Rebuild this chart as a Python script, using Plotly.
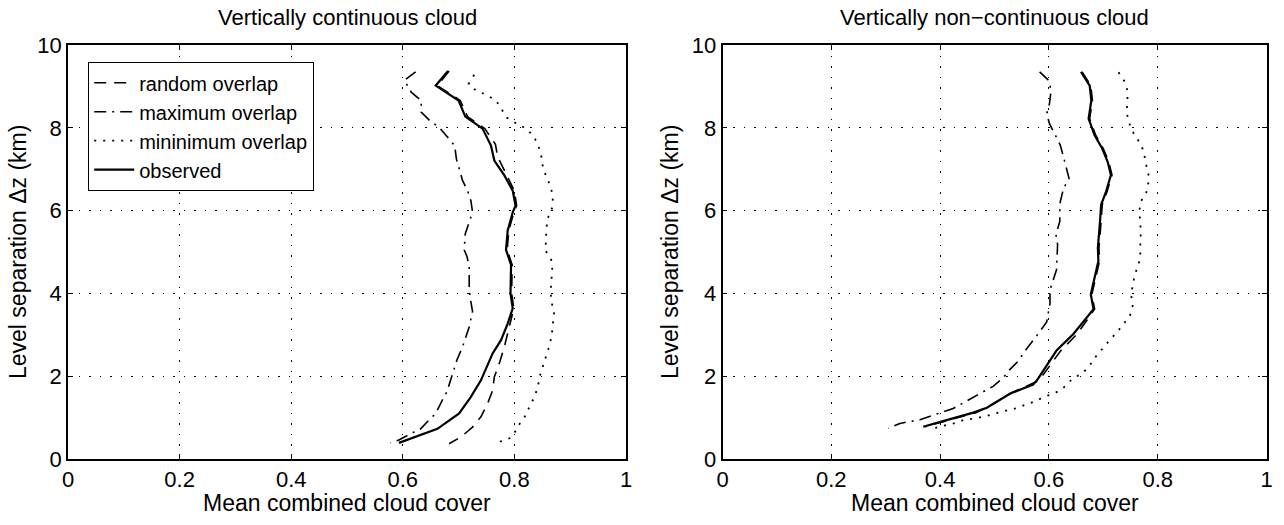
import plotly.graph_objects as go

# ---------------- data ----------------
# Left panel: vertically continuous cloud
rand_L_x = [0.683, 0.662, 0.703, 0.716, 0.747, 0.766, 0.770, 0.785, 0.800, 0.804, 0.799, 0.790, 0.787,
            0.796, 0.795, 0.799, 0.788, 0.782, 0.773, 0.764, 0.761, 0.752, 0.740, 0.725, 0.704, 0.683]
rand_L_y = [9.37, 9.02, 8.66, 8.27, 7.98, 7.60, 7.30, 6.90, 6.48, 6.12, 5.96, 5.52, 5.05,
            4.69, 4.00, 3.64, 3.03, 2.71, 2.31, 1.98, 1.66, 1.34, 1.02, 0.77, 0.53, 0.37]

max_L_x = [0.623, 0.603, 0.615, 0.633, 0.633, 0.648, 0.666, 0.678, 0.693, 0.696, 0.700, 0.707, 0.716,
           0.722, 0.725, 0.718, 0.712, 0.710, 0.715, 0.719, 0.719, 0.722, 0.725, 0.719, 0.713, 0.707,
           0.697, 0.692, 0.686, 0.679, 0.670, 0.659, 0.644, 0.632, 0.614, 0.593, 0.578]
max_L_y = [9.35, 9.15, 8.86, 8.66, 8.38, 8.18, 8.00, 7.81, 7.57, 7.25, 7.05, 6.73, 6.48,
           6.24, 5.96, 5.68, 5.44, 5.05, 4.89, 4.65, 4.08, 3.80, 3.56, 3.19, 2.95, 2.71,
           2.39, 2.19, 1.90, 1.62, 1.40, 1.10, 0.90, 0.73, 0.61, 0.46, 0.39]

min_L_x = [0.728, 0.718, 0.731, 0.749, 0.767, 0.776, 0.787, 0.803, 0.821, 0.834, 0.843, 0.848, 0.851,
           0.857, 0.865, 0.869, 0.868, 0.860, 0.857, 0.857, 0.855, 0.866, 0.868, 0.866, 0.865, 0.867,
           0.871, 0.869, 0.867, 0.863, 0.857, 0.851, 0.845, 0.842, 0.836, 0.827, 0.819, 0.809, 0.800,
           0.793, 0.764]
min_L_y = [9.28, 9.06, 8.90, 8.80, 8.66, 8.46, 8.24, 8.11, 7.98, 7.81, 7.57, 7.33, 7.06,
           6.82, 6.58, 6.34, 6.08, 5.82, 5.54, 5.29, 5.05, 4.81, 4.56, 4.28, 4.00, 3.77,
           3.53, 3.27, 3.00, 2.75, 2.51, 2.25, 1.98, 1.74, 1.50, 1.26, 1.03, 0.84, 0.63,
           0.51, 0.37]

obs_L_x = [0.681, 0.659, 0.700, 0.712, 0.743, 0.758, 0.764, 0.782, 0.797, 0.802, 0.797, 0.788, 0.785,
           0.794, 0.793, 0.797, 0.788, 0.776, 0.761, 0.740, 0.722, 0.701, 0.662, 0.593]
obs_L_y = [9.37, 9.02, 8.66, 8.27, 7.98, 7.57, 7.21, 6.85, 6.48, 6.12, 5.96, 5.52, 5.05,
           4.69, 4.00, 3.64, 3.27, 2.87, 2.55, 1.90, 1.50, 1.10, 0.73, 0.39]

# Right panel: vertically non-continuous cloud
rand_R_x = [0.661, 0.677, 0.680, 0.675, 0.686, 0.700, 0.710, 0.716, 0.707, 0.698, 0.696, 0.694, 0.692,
            0.693, 0.687, 0.679, 0.684, 0.667, 0.652, 0.622, 0.596, 0.582, 0.532, 0.488, 0.466, 0.414, 0.372]
rand_R_y = [9.35, 9.02, 8.66, 8.22, 7.82, 7.50, 7.18, 6.86, 6.46, 6.14, 5.74, 5.42, 5.10,
            4.78, 4.46, 3.98, 3.62, 3.30, 3.02, 2.62, 2.14, 1.90, 1.60, 1.26, 1.12, 0.94, 0.78]

max_R_x = [0.583, 0.600, 0.604, 0.601, 0.596, 0.601, 0.612, 0.621, 0.626, 0.633, 0.637, 0.627, 0.621,
           0.620, 0.620, 0.613, 0.616, 0.614, 0.608, 0.602, 0.602, 0.596, 0.580, 0.568, 0.556, 0.544,
           0.528, 0.516, 0.498, 0.480, 0.458, 0.440, 0.424, 0.388, 0.363, 0.326, 0.305]
max_R_y = [9.35, 9.14, 8.90, 8.58, 8.34, 8.10, 7.82, 7.58, 7.34, 7.02, 6.78, 6.54, 6.22,
           6.00, 5.74, 5.42, 5.18, 4.57, 4.33, 4.08, 3.76, 3.31, 3.02, 2.82, 2.61, 2.37,
           2.16, 1.96, 1.76, 1.63, 1.47, 1.35, 1.22, 1.06, 0.95, 0.86, 0.74]

min_R_x = [0.728, 0.740, 0.745, 0.744, 0.743, 0.748, 0.756, 0.766, 0.775, 0.777, 0.783, 0.783, 0.779,
           0.769, 0.766, 0.768, 0.769, 0.768, 0.768, 0.765, 0.758, 0.754, 0.751, 0.754, 0.749, 0.737,
           0.725, 0.711, 0.698, 0.686, 0.675, 0.661, 0.645, 0.626, 0.611, 0.593, 0.574, 0.556, 0.538,
           0.501, 0.483, 0.464, 0.443, 0.425, 0.390]
min_R_y = [9.34, 9.10, 8.87, 8.62, 8.36, 8.10, 7.86, 7.66, 7.42, 7.18, 6.92, 6.68, 6.44,
           6.22, 5.98, 5.72, 5.46, 5.22, 4.94, 4.70, 4.46, 4.18, 3.98, 3.70, 3.46, 3.26,
           3.06, 2.86, 2.67, 2.47, 2.26, 2.06, 1.96, 1.71, 1.59, 1.51, 1.39, 1.31, 1.22,
           1.10, 1.03, 0.98, 0.94, 0.86, 0.75]

obs_R_x = [0.659, 0.675, 0.678, 0.673, 0.684, 0.698, 0.708, 0.714, 0.705, 0.696, 0.694, 0.692, 0.690,
           0.691, 0.685, 0.677, 0.682, 0.663, 0.645, 0.614, 0.590, 0.578, 0.571, 0.529, 0.486, 0.461,
           0.412, 0.369]
obs_R_y = [9.35, 9.02, 8.66, 8.22, 7.82, 7.50, 7.18, 6.86, 6.46, 6.14, 5.74, 5.42, 5.10,
           4.78, 4.46, 3.98, 3.62, 3.30, 3.02, 2.62, 2.14, 1.90, 1.80, 1.58, 1.24, 1.12,
           0.94, 0.78]

series_names = ["random overlap", "maximum overlap", "mininimum overlap", "observed"]
panel_titles = ["Vertically continuous cloud", "Vertically non\u2212continuous cloud"]
x_title = "Mean combined cloud cover"
y_title = "Level separation \u0394z (km)"
x_ticks = [0, 0.2, 0.4, 0.6, 0.8, 1]
y_ticks = [0, 2, 4, 6, 8, 10]

# ---------------- styling ----------------
W, H = 1284, 525
FONT = "Liberation Sans, Arial, Helvetica, sans-serif"
styles = [
    dict(color="black", width=1.6, dash="12px,8px"),
    dict(color="black", width=1.6, dash="12px,6px,2px,6px"),
    dict(color="black", width=1.8, dash="2px,7px"),
    dict(color="black", width=2.2, dash="solid"),
]

fig = go.Figure()
left = [(rand_L_x, rand_L_y), (max_L_x, max_L_y), (min_L_x, min_L_y), (obs_L_x, obs_L_y)]
right = [(rand_R_x, rand_R_y), (max_R_x, max_R_y), (min_R_x, min_R_y), (obs_R_x, obs_R_y)]
for i, (xs, ys) in enumerate(left):
    fig.add_trace(go.Scatter(x=xs, y=ys, mode="lines", name=series_names[i], line=styles[i],
                             xaxis="x", yaxis="y", showlegend=True))
for i, (xs, ys) in enumerate(right):
    fig.add_trace(go.Scatter(x=xs, y=ys, mode="lines", name=series_names[i], line=styles[i],
                             xaxis="x2", yaxis="y2", showlegend=False))

def px_x(p):
    return p / W

def px_y(p):
    return 1 - p / H

top_px, bot_px = 45, 459
dom_y = [px_y(bot_px), px_y(top_px)]
dom_x1 = [px_x(68), px_x(626)]
dom_x2 = [px_x(722.5), px_x(1266.5)]

axis_common = dict(
    showline=True, linecolor="black", linewidth=1.5, mirror="ticks",
    ticks="inside", ticklen=5, tickwidth=1.2, tickcolor="black",
    showgrid=True, gridcolor="black", gridwidth=1.4, griddash="1.5px,9px",
    zeroline=False, tickfont=dict(family=FONT, size=22, color="black"),
    automargin=False,
)

fig.update_layout(
    width=W, height=H,
    margin=dict(l=0, r=0, t=0, b=0),
    paper_bgcolor="white", plot_bgcolor="white",
    font=dict(family=FONT, color="black"),
    xaxis=dict(domain=dom_x1, range=[0, 1], tickvals=x_ticks, anchor="y", **axis_common),
    yaxis=dict(domain=dom_y, range=[0, 10], tickvals=y_ticks, anchor="x", **axis_common),
    xaxis2=dict(domain=dom_x2, range=[0, 1], tickvals=x_ticks, anchor="y2", **axis_common),
    yaxis2=dict(domain=dom_y, range=[0, 10], tickvals=y_ticks, anchor="x2", **axis_common),
    legend=dict(
        x=px_x(88), y=px_y(62), xanchor="left", yanchor="top",
        bgcolor="white", bordercolor="black", borderwidth=1.2,
        font=dict(family=FONT, size=20, color="black"),
        tracegroupgap=0, itemwidth=40,
    ),
    showlegend=True,
)

annots = []
for dx, t in zip([dom_x1, dom_x2], panel_titles):
    cx = (dx[0] + dx[1]) / 2
    annots.append(dict(x=cx, y=px_y(17), xref="paper", yref="paper", text=t, showarrow=False,
                       xanchor="center", yanchor="middle", font=dict(family=FONT, size=22, color="black")))
    annots.append(dict(x=cx, y=px_y(503), xref="paper", yref="paper", text=x_title, showarrow=False,
                       xanchor="center", yanchor="middle", font=dict(family=FONT, size=23, color="black")))
for xc in [18, 670]:
    annots.append(dict(x=px_x(xc), y=(dom_y[0] + dom_y[1]) / 2, xref="paper", yref="paper", text=y_title,
                       showarrow=False, textangle=-90, xanchor="center", yanchor="middle",
                       font=dict(family=FONT, size=23, color="black")))
fig.update_layout(annotations=annots)

fig.write_html("out.html")
